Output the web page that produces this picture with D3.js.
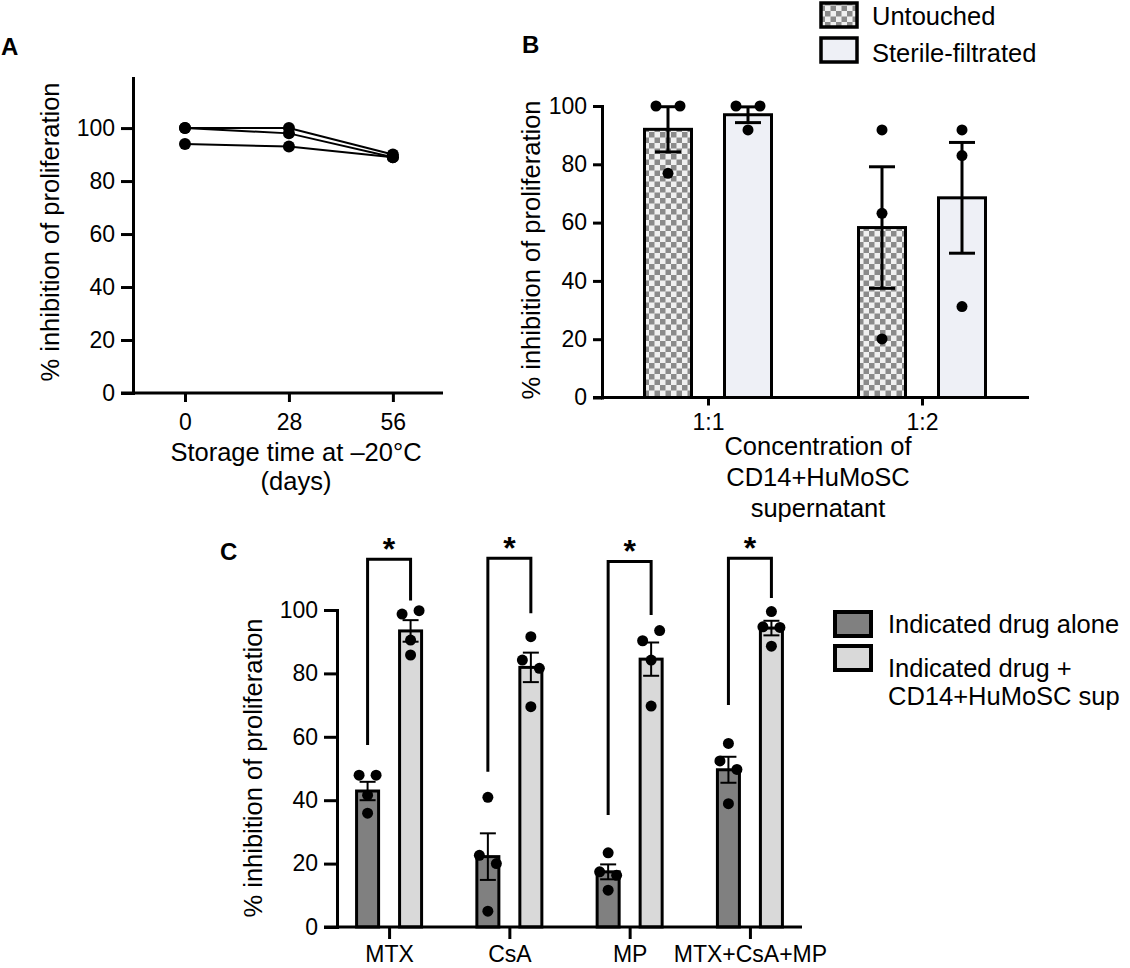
<!DOCTYPE html>
<html>
<head>
<meta charset="utf-8">
<script src="https://cdn.jsdelivr.net/npm/d3@7"></script>
<style>
body { margin: 0; background: #fff; }
svg { display: block; font-family: "Liberation Sans", Arial, sans-serif; }
.axis { font-family: "Liberation Sans", Arial, sans-serif; }
.axis path, .axis line { stroke: #000; stroke-width: 3; }
.axis text { font-size: 23px; fill: #000; }
.ttl { font-size: 25.5px; fill: #000; }
.lbl { font-size: 24px; font-weight: bold; fill: #000; }
</style>
</head>
<body>
<svg></svg>
<script>
// ---- data ----
// panel A: storage time
const daysA = [0, 28, 56];
const donorsA = [
    [100, 100, 90],
    [100, 98, 89],
    [94, 93, 89]
];
const ticksY = [0, 20, 40, 60, 80, 100];

// panel B: supernatant concentration
const concB = ["1:1", "1:2"];
const groupsB = ["Untouched", "Sterile-filtrated"];
const meanUntouched = [92, 58.3];
const semUntouched = [7.75, 20.85];
const ptsUntouched = [[100, 100, 76.9], [91.8, 63.2, 20.1]];
const meanSterile = [97, 68.5];
const semSterile = [2.7, 19];
const ptsSterile = [[100, 100, 91.8], [91.8, 83, 31.2]];

// panel C: drugs
const drugsC = ["MTX", "CsA", "MP", "MTX+CsA+MP"];
const meanAlone = [42.9, 22.2, 17.4, 49.6];
const semAlone = [2.9, 7.35, 2.35, 4.1];
const ptsAlone = [[47.9, 47.9, 41.6, 35.9], [40.9, 22.6, 20, 5], [23.4, 17.4, 16.3, 11.6], [57.9, 52.4, 49.7, 38.9]];
const meanSup = [93.4, 81.9, 84.5, 94.3];
const semSup = [3.4, 4.65, 5.25, 2.3];
const ptsSup = [[98.7, 99.8, 90.5, 85.8], [91.6, 84.2, 81.6, 69.5], [90.3, 93.5, 84.2, 69.7], [99.5, 94.7, 94.5, 88.6]];
const sigLeft = [57.4, 49, 35.3, 70];
const sigRight = [103, 99, 98.4, 103.8];
const sigTop = [116, 116.3, 115.3, 116.3];
const sigText = ["*", "*", "*", "*"];

const svg = d3.select("svg").attr("width", 1130).attr("height", 968);
svg.append("rect").attr("width", 1130).attr("height", 968).attr("fill", "#fff");

var defs = svg.append("defs");
var pat = defs.append("pattern").attr("id", "checker")
    .attr("patternUnits", "userSpaceOnUse").attr("width", 11).attr("height", 11);
pat.append("rect").attr("width", 11).attr("height", 11).attr("fill", "#f0f0f0");
pat.append("rect").attr("width", 5.5).attr("height", 5.5).attr("fill", "#8a8a8a");
pat.append("rect").attr("x", 5.5).attr("y", 5.5).attr("width", 5.5).attr("height", 5.5).attr("fill", "#8a8a8a");

// spread dots that would overlap, centred on the bar
function swarm(vals, y, gap, step) {
    const order = vals.map((v, i) => i).sort((a, b) => vals[b] - vals[a]);
    const off = vals.map(() => 0);
    let cl = [];
    const flush = () => {
        cl.sort((a, b) => a - b).forEach((k, j) => off[k] = (j - (cl.length - 1) / 2) * step);
        cl = [];
    };
    order.forEach(k => {
        if (cl.length && Math.abs(y(vals[k]) - y(vals[cl[cl.length - 1]])) >= gap) flush();
        cl.push(k);
    });
    flush();
    return off;
}

function leftAxis(y, x0, tick) {
    var g = svg.append("g").attr("class", "axis").attr("transform", `translate(${x0},0)`)
        .call(d3.axisLeft(y).tickValues(ticksY).tickSize(tick).tickPadding(6).tickSizeOuter(0));
    g.attr("font-size", null).attr("font-family", null);
    g.select(".domain").attr("stroke-linecap", "square");
    return g;
}

function bottomAxis(x, y0, x1, x2, tick, pad, vals) {
    svg.append("line").attr("x1", x1).attr("x2", x2).attr("y1", y0).attr("y2", y0)
        .attr("stroke", "#000").attr("stroke-width", 3);
    var ax = d3.axisBottom(x).tickSize(tick).tickPadding(pad).tickSizeOuter(0);
    if (vals) ax.tickValues(vals);
    var g = svg.append("g").attr("class", "axis").attr("transform", `translate(0,${y0})`).call(ax);
    g.attr("font-size", null).attr("font-family", null);
    g.select(".domain").remove();
    return g;
}

function yTitle(x, y) {
    svg.append("text").attr("class", "ttl").attr("text-anchor", "middle")
        .attr("transform", `translate(${x},${y}) rotate(-90)`)
        .text("% inhibition of proliferation");
}

function errBar(x, y, m, s, cap, w) {
    var g = svg.append("g").attr("stroke", "#000").attr("stroke-width", w);
    g.append("line").attr("x1", x).attr("x2", x).attr("y1", y(m - s)).attr("y2", y(m + s));
    g.append("line").attr("x1", x - cap / 2).attr("x2", x + cap / 2).attr("y1", y(m + s)).attr("y2", y(m + s));
    g.append("line").attr("x1", x - cap / 2).attr("x2", x + cap / 2).attr("y1", y(m - s)).attr("y2", y(m - s));
}

// ---- panel A ----
var xA = d3.scaleLinear().domain([-14, 69.5]).range([133, 443]);
var yA = d3.scaleLinear().domain([0, 118.9]).range([393, 78]);
svg.append("text").attr("class", "lbl").attr("x", 1).attr("y", 55).text("A");
leftAxis(yA, 133, 12);
bottomAxis(xA, 393, 121, 443, 9, 12, daysA);
yTitle(59, 232);
svg.append("text").attr("class", "ttl").attr("text-anchor", "middle").attr("x", 296).attr("y", 461).text("Storage time at \u201320\u00b0C");
svg.append("text").attr("class", "ttl").attr("text-anchor", "middle").attr("x", 296).attr("y", 490).text("(days)");

var line = d3.line().x((d, i) => xA(daysA[i])).y(d => yA(d));
svg.selectAll(".donor").data(donorsA).enter().append("path")
    .attr("class", "donor").attr("d", line).attr("fill", "none")
    .attr("stroke", "#000").attr("stroke-width", 2);
donorsA.forEach(row => {
    svg.selectAll(null).data(row).enter().append("circle")
        .attr("cx", (d, i) => xA(daysA[i])).attr("cy", d => yA(d)).attr("r", 6).attr("fill", "#000");
});

// ---- panel B ----
var xB = d3.scalePoint().domain(concB).range([601, 1029]).padding(0.5);
var subB = d3.scaleBand().domain(groupsB).range([-63.5, 63.5]).paddingInner(0.4125);
var yB = d3.scaleLinear().domain([0, 100]).range([397.5, 106]);
var fillB = { "Untouched": "url(#checker)", "Sterile-filtrated": "#eef0f6" };
var barsB = [
    { g: "Untouched", mean: meanUntouched, sem: semUntouched, pts: ptsUntouched },
    { g: "Sterile-filtrated", mean: meanSterile, sem: semSterile, pts: ptsSterile }
];
svg.append("text").attr("class", "lbl").attr("x", 522).attr("y", 53).text("B");

barsB.forEach(s => {
    concB.forEach((c, i) => {
        var cx = xB(c) + subB(s.g) + subB.bandwidth() / 2;
        svg.append("rect").attr("x", xB(c) + subB(s.g)).attr("width", subB.bandwidth())
            .attr("y", yB(s.mean[i])).attr("height", yB(0) - yB(s.mean[i]))
            .attr("fill", fillB[s.g]).attr("stroke", "#000").attr("stroke-width", 3);
        errBar(cx, yB, s.mean[i], s.sem[i], 26, 3);
        var off = swarm(s.pts[i], yB, 12, 24);
        svg.selectAll(null).data(s.pts[i]).enter().append("circle")
            .attr("cx", (d, j) => cx + off[j]).attr("cy", d => yB(d)).attr("r", 5.5).attr("fill", "#000");
    });
});
leftAxis(yB, 602, 9);
bottomAxis(xB, 397.5, 593, 1029, 8, 8);
yTitle(540, 250);
["Concentration of", "CD14+HuMoSC", "supernatant"].forEach((t, i) => {
    svg.append("text").attr("class", "ttl").attr("text-anchor", "middle")
        .attr("x", 818).attr("y", 455 + i * 31).text(t);
});

// legend B
groupsB.forEach((g, i) => {
    svg.append("rect").attr("x", 821).attr("y", 3 + i * 35).attr("width", 36).attr("height", 24)
        .attr("fill", fillB[g]).attr("stroke", "#000").attr("stroke-width", 3.5);
    svg.append("text").attr("class", "ttl").attr("x", 872).attr("y", 25 + i * 37).text(g);
});

// ---- panel C ----
var xC = d3.scalePoint().domain(drugsC).range([337, 802]).padding(0.433);
var subC = d3.scaleBand().domain(["alone", "sup"]).range([-32.5, 32.5]).paddingInner(0.488);
var yC = d3.scaleLinear().domain([0, 100]).range([927, 610]);
var fillC = { alone: "#808080", sup: "#d9d9d9" };
var barsC = [
    { g: "alone", mean: meanAlone, sem: semAlone, pts: ptsAlone },
    { g: "sup", mean: meanSup, sem: semSup, pts: ptsSup }
];
svg.append("text").attr("class", "lbl").attr("x", 220).attr("y", 560).text("C");

barsC.forEach(s => {
    drugsC.forEach((c, i) => {
        var cx = xC(c) + subC(s.g) + subC.bandwidth() / 2;
        svg.append("rect").attr("x", xC(c) + subC(s.g)).attr("width", subC.bandwidth())
            .attr("y", yC(s.mean[i])).attr("height", yC(0) - yC(s.mean[i]))
            .attr("fill", fillC[s.g]).attr("stroke", "#000").attr("stroke-width", 3);
        errBar(cx, yC, s.mean[i], s.sem[i], 16, 2);
        var off = swarm(s.pts[i], yC, 12, 17);
        svg.selectAll(null).data(s.pts[i]).enter().append("circle")
            .attr("cx", (d, j) => cx + off[j]).attr("cy", d => yC(d)).attr("r", 5.5).attr("fill", "#000");
    });
});

// significance brackets
drugsC.forEach((c, i) => {
    var xl = xC(c) + subC("alone") + subC.bandwidth() / 2;
    var xr = xC(c) + subC("sup") + subC.bandwidth() / 2;
    svg.append("path")
        .attr("d", `M${xl},${yC(sigLeft[i])}V${yC(sigTop[i])}H${xr}V${yC(sigRight[i])}`)
        .attr("fill", "none").attr("stroke", "#000").attr("stroke-width", 3);
    svg.append("text").attr("x", (xl + xr) / 2).attr("y", yC(sigTop[i]) + 1)
        .attr("text-anchor", "middle").attr("font-size", "32px").attr("font-weight", "bold")
        .text(sigText[i]);
});

leftAxis(yC, 337, 13);
bottomAxis(xC, 927, 324, 802, 12, 6.5);
yTitle(262, 768);

// legend C
var legC = [["Indicated drug alone"], ["Indicated drug +", "CD14+HuMoSC sup"]];
["alone", "sup"].forEach((g, i) => {
    svg.append("rect").attr("x", 835).attr("y", 612 + i * 34).attr("width", 36).attr("height", 24)
        .attr("fill", fillC[g]).attr("stroke", "#000").attr("stroke-width", 4);
    legC[i].forEach((t, j) => {
        svg.append("text").attr("class", "ttl").attr("x", 888).attr("y", 633 + i * 44 + j * 28).text(t);
    });
});
</script>
</body>
</html>
